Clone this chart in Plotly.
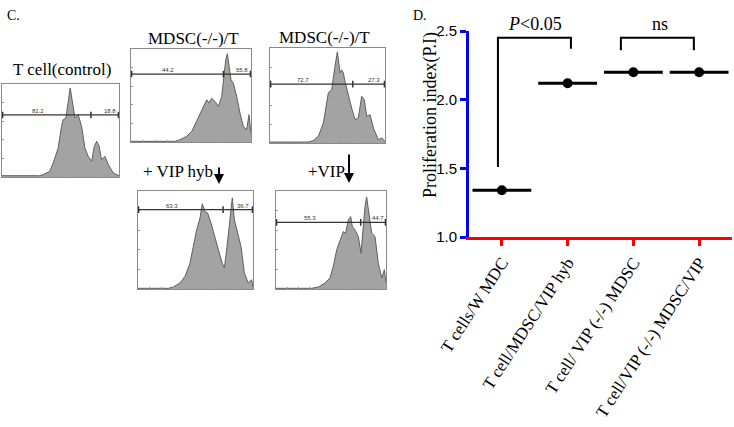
import plotly.graph_objects as go

# ---------------- Data ----------------
categories = ["T cells/W MDC", "T cell/MDSC/VIP hyb", "T cell/ VIP (-/-) MDSC", "T cell/VIP (-/-) MDSC/VIP"]
prolif_index = [1.34, 2.12, 2.20, 2.20]
y_ticks = [1.0, 1.5, 2.0, 2.5]

bracket_left = [-0.06, 1.81]
bracket_right = [1.05, 2.92]
bracket_top = [2.45, 2.45]
bracket_left_foot = [1.51, 2.36]
bracket_right_foot = [2.37, 2.36]
bracket_labels = ["<i>P</i><0.05", "ns"]
bracket_label_x = [0.5, 2.4]

h1_channel = [0, 32.3, 35.1, 40.9, 43.7, 48.0, 50.9, 52.3, 54.6, 56.6, 58.3, 60.3, 62.3, 65.1, 68.0, 70.9, 73.7, 76.6, 78.9, 80.9, 82.9, 85.1, 88.0, 90.9, 95.1, 100]
h1_count = [1.4, 1.4, 2.5, 6.1, 15.0, 31.0, 54.5, 61.6, 63.4, 79.6, 95.7, 79.6, 63.4, 67.0, 54.5, 31.0, 22.2, 16.8, 33.0, 38.4, 33.7, 18.6, 22.2, 13.3, 4.3, 1.4]
h2_channel = [0, 36.7, 40.8, 46.4, 50.6, 54.7, 57.5, 60.3, 63.1, 65.0, 67.2, 70.0, 72.8, 75.6, 77.5, 78.9, 80.3, 81.7, 83.3, 85.3, 88.1, 90.8, 93.6, 96.4, 98.3, 100]
h2_count = [0.7, 0.7, 2.5, 6.1, 11.4, 22.1, 29.3, 38.2, 45.4, 41.8, 47.1, 43.6, 38.2, 48.9, 70.4, 88.0, 95.0, 81.0, 66.8, 63.2, 48.9, 31.1, 16.8, 13.2, 29.3, 9.6]
h3_channel = [0, 33.3, 37.7, 42.0, 46.4, 50.7, 53.6, 55.1, 56.5, 58.6, 60.9, 62.3, 63.8, 65.2, 68.1, 71.0, 73.9, 76.8, 79.7, 82.0, 84.1, 87.0, 89.9, 94.2, 97.1, 100]
h3_count = [1.0, 1.0, 2.5, 7.0, 21.0, 52.6, 56.1, 66.7, 80.7, 96.0, 73.7, 77.0, 73.7, 64.9, 49.1, 36.8, 24.6, 26.3, 49.1, 45.6, 28.1, 29.8, 15.8, 3.5, 5.3, 1.8]
h4_channel = [0, 26.4, 30.7, 36.5, 40.9, 45.2, 48.1, 51.0, 53.9, 55.9, 58.3, 60.6, 63.5, 66.4, 69.9, 73.3, 75.1, 77.1, 79.1, 80.9, 82.0, 83.8, 86.7, 89.6, 92.5, 95.9, 98.8, 100]
h4_count = [0.7, 0.7, 2.0, 6.1, 12.9, 26.4, 43.4, 60.3, 72.2, 87.0, 79.0, 77.3, 67.1, 53.6, 40.0, 26.4, 21.4, 40.0, 63.7, 84.1, 93.0, 70.5, 56.9, 43.4, 16.3, 6.1, 9.5, 2.0]
h5_channel = [0, 32.4, 38.5, 44.5, 49.1, 52.1, 55.2, 58.2, 61.2, 63.3, 65.8, 67.9, 69.4, 71.8, 74.8, 77.3, 79.4, 80.9, 82.4, 84.5, 87.0, 90.0, 93.0, 96.1, 98.5, 100]
h5_count = [0.7, 0.7, 2.0, 6.1, 11.2, 23.1, 40.0, 50.2, 58.6, 56.9, 70.5, 73.9, 63.7, 60.3, 53.6, 36.6, 63.7, 84.1, 94.0, 77.3, 56.9, 53.6, 26.4, 11.2, 19.7, 6.1]

hist_channels = [h1_channel, h2_channel, h3_channel, h4_channel, h5_channel]
hist_counts = [h1_count, h2_count, h3_count, h4_count, h5_count]
hist_titles = ["T cell(control)", "MDSC(-/-)/T", "MDSC(-/-)/T", "", ""]

gate_height = [66.7, 73.0, 62.0, 81.0, 68.0]
gate_split = [76.0, 77.0, 72.0, 74.0, 77.0]
gate_left_pct = ["81.2", "44.2", "72.7", "63.3", "55.3"]
gate_right_pct = ["18.8", "55.8", "27.3", "36.7", "44.7"]

W, H = 734, 427
def px(x):
    return x / W
def py(y):
    return 1 - y / H

SERIF = "Liberation Serif"
SANS = "Liberation Sans"

hist_boxes = [(2, 119, 84, 177), (131, 251, 49, 142), (270, 385, 48, 143),
              (138, 253, 191, 289), (276, 386, 191, 289)]
title_pos = [(62, 70), (193, 39), (324, 38)]

fig = go.Figure(layout=go.Layout(template="none"))
shapes = []
annotations = []

def text_ann(x, y, text, size, family=SERIF, angle=0):
    return dict(x=px(x), y=py(y), xref="paper", yref="paper", text=text, showarrow=False,
                xanchor="center", yanchor="middle", textangle=angle,
                font=dict(family=family, size=size, color="black"))

layout_axes = {}
for i in range(5):
    k = i + 2
    xa, ya = f"x{k}", f"y{k}"
    l, r, t, b = hist_boxes[i]
    fig.add_trace(go.Scatter(x=hist_channels[i], y=hist_counts[i], xaxis=xa, yaxis=ya,
                             mode="lines", fill="tozeroy", fillcolor="#a3a3a3",
                             line=dict(color="#5f5f5f", width=1)))
    axstyle = dict(showline=True, mirror=True, linecolor="#8a8a8a", linewidth=1,
                   showgrid=False, zeroline=False, showticklabels=False, fixedrange=True,
                   ticks="inside", ticklen=2, tickcolor="#9a9a9a")
    layout_axes[f"xaxis{k}"] = dict(domain=[px(l), px(r)], range=[0, 100], anchor=ya,
                                    tickvals=[10, 20, 30, 40, 50, 60, 70, 80, 90], **axstyle)
    layout_axes[f"yaxis{k}"] = dict(domain=[py(b), py(t)], range=[0, 100], anchor=xa,
                                    tickvals=[20, 40, 60, 80], **axstyle)
    gy = gate_height[i]
    shapes.append(dict(type="line", xref=xa, yref=ya, x0=0.5, x1=99.5, y0=gy, y1=gy,
                       line=dict(color="#333333", width=1.3)))
    for gx in [0.5, gate_split[i], 99.5]:
        shapes.append(dict(type="line", xref=xa, yref=ya, x0=gx, x1=gx, y0=gy - 3.5, y1=gy + 3.5,
                           line=dict(color="#333333", width=1.5)))
    annotations.append(dict(x=gate_split[i] * 0.4, y=gy, xref=xa, yref=ya, text=gate_left_pct[i],
                            showarrow=False, yshift=4, xanchor="center", yanchor="middle",
                            font=dict(family=SANS, size=6, color="#333")))
    annotations.append(dict(x=(gate_split[i] + 100) / 2 + 4, y=gy, xref=xa, yref=ya,
                            text=gate_right_pct[i], showarrow=False, yshift=4,
                            xanchor="center", yanchor="middle",
                            font=dict(family=SANS, size=6, color="#333")))
    if hist_titles[i]:
        tx, ty = title_pos[i]
        annotations.append(text_ann(tx, ty, hist_titles[i], 17))

annotations.append(text_ann(178, 171, "+ VIP hyb", 17))
annotations.append(text_ann(326, 171, "+VIP", 17))
annotations.append(dict(x=px(219), y=py(184), xref="paper", yref="paper", text="", showarrow=True,
                        ax=0, ay=-18, arrowhead=2, arrowsize=1, arrowwidth=2, arrowcolor="black"))
annotations.append(dict(x=px(349), y=py(183), xref="paper", yref="paper", text="", showarrow=True,
                        ax=0, ay=-30, arrowhead=2, arrowsize=1, arrowwidth=2, arrowcolor="black"))
annotations.append(text_ann(13, 15, "C.", 14))
annotations.append(text_ann(420, 15, "D.", 14))

cat_pos = list(range(len(categories)))
x_range = [-0.5, 3.5]
y_range = [1.0, 2.5]
fig.add_trace(go.Scatter(x=cat_pos, y=prolif_index, xaxis="x7", yaxis="y7", mode="markers",
                         marker=dict(symbol="line-ew", size=42, line=dict(width=3, color="black"))))
fig.add_trace(go.Scatter(x=cat_pos, y=prolif_index, xaxis="x7", yaxis="y7", mode="markers",
                         marker=dict(symbol="circle", size=10, color="black")))

layout_axes["xaxis7"] = dict(domain=[px(469), px(732)], range=x_range, anchor="y7",
                             tickvals=cat_pos, ticktext=categories, fixedrange=True,
                             showline=True, linecolor="red", linewidth=3, ticks="outside", ticklen=6,
                             tickwidth=3, tickcolor="red", tickangle=-57, showgrid=False,
                             zeroline=False, tickfont=dict(family=SERIF, size=17, color="black"))
layout_axes["yaxis7"] = dict(domain=[py(237), py(31)], range=y_range, anchor="x7",
                             tickvals=y_ticks, ticktext=[f"{v:.1f}" for v in y_ticks], fixedrange=True,
                             showline=True, linecolor="blue", linewidth=3, ticks="outside", ticklen=6,
                             tickwidth=3, tickcolor="blue", showgrid=False, zeroline=False,
                             tickfont=dict(family=SANS, size=15, color="black"))

annotations.append(text_ann(430, 115, "Proliferation index(P.I)", 18, angle=-90))

for i in range(len(bracket_labels)):
    xl, xr, yt = bracket_left[i], bracket_right[i], bracket_top[i]
    path = f"M {xl} {bracket_left_foot[i]} L {xl} {yt} L {xr} {yt} L {xr} {bracket_right_foot[i]}"
    shapes.append(dict(type="path", xref="x7", yref="y7", path=path, fillcolor="rgba(0,0,0,0)",
                       line=dict(color="black", width=2)))
    annotations.append(dict(x=bracket_label_x[i], y=yt, xref="x7", yref="y7", text=bracket_labels[i],
                            showarrow=False, xanchor="center", yanchor="bottom", yshift=2,
                            font=dict(family=SERIF, size=18, color="black")))

fig.update_layout(width=W, height=H, margin=dict(l=0, r=0, t=0, b=0), showlegend=False,
                  plot_bgcolor="white", paper_bgcolor="white", hovermode=False,
                  shapes=shapes, annotations=annotations, **layout_axes)

fig.write_html("out.html", config={"displayModeBar": False, "staticPlot": True},
               post_script="document.body.style.margin='0';document.body.style.overflow='hidden';")
